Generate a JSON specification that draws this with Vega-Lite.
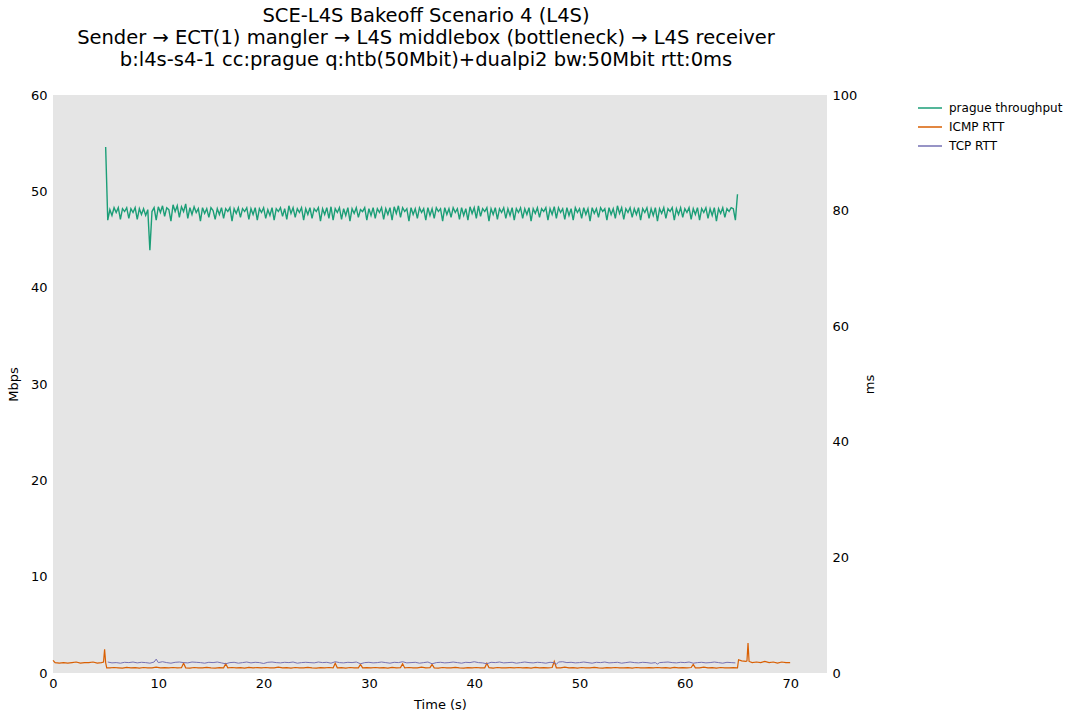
{
"$schema": "https://vega.github.io/schema/vega-lite/v6.json",
"width": 774, "height": 578,
"autosize": {"type": "none"},
"padding": {"left": 53, "top": 95, "right": 246, "bottom": 48},
"background": "white",
"config": {
 "font": "DejaVu Sans",
 "view": {"fill": "#e5e5e5", "stroke": null},
 "axis": {"grid": false, "domain": false, "ticks": false, "labelFlush": false, "labelFont": "DejaVu Sans", "labelFontSize": 13, "labelColor": "black", "titleFont": "DejaVu Sans", "titleFontSize": 13, "titleFontWeight": "normal", "titleColor": "black"},
 "legend": {"orient": "none", "legendX": 864, "legendY": 0, "symbolType": "stroke", "symbolSize": 576, "symbolStrokeWidth": 1.5, "labelFont": "DejaVu Sans", "labelFontSize": 12, "labelColor": "black", "labelOffset": 6, "rowPadding": -8, "title": null}
},
"title": {"text": ["SCE-L4S Bakeoff Scenario 4 (L4S)", "Sender → ECT(1) mangler → L4S middlebox (bottleneck) → L4S receiver", "b:l4s-s4-1 cc:prague q:htb(50Mbit)+dualpi2 bw:50Mbit rtt:0ms"], "font": "DejaVu Sans", "fontSize": 19.5, "fontWeight": "normal", "color": "black", "anchor": "middle", "dx": -14, "lineHeight": 22, "offset": 19},
"datasets": {
"thr": [
{"t":5.0,"v":54.6},{"t":5.2,"v":47.0},{"t":5.4,"v":48.1},{"t":5.6,"v":47.5},{"t":5.8,"v":48.3},{"t":6.0,"v":47.8},{"t":6.2,"v":48.3},{"t":6.4,"v":47.1},{"t":6.6,"v":48.2},{"t":6.8,"v":47.9},
{"t":7.0,"v":48.3},{"t":7.2,"v":47.2},{"t":7.4,"v":48.2},{"t":7.6,"v":47.8},{"t":7.8,"v":48.3},{"t":8.0,"v":47.1},{"t":8.2,"v":48.2},{"t":8.4,"v":47.6},{"t":8.6,"v":48.2},{"t":8.8,"v":47.5},
{"t":9.0,"v":48.1},{"t":9.2,"v":43.9},{"t":9.4,"v":47.9},{"t":9.6,"v":48.3},{"t":9.8,"v":47.0},{"t":10.0,"v":48.4},{"t":10.2,"v":47.8},{"t":10.4,"v":48.5},{"t":10.6,"v":47.4},{"t":10.8,"v":48.3},
{"t":11.0,"v":48.1},{"t":11.2,"v":46.9},{"t":11.4,"v":48.6},{"t":11.6,"v":47.9},{"t":11.8,"v":48.5},{"t":12.0,"v":47.3},{"t":12.2,"v":48.4},{"t":12.4,"v":47.9},{"t":12.6,"v":48.7},{"t":12.8,"v":47.2},
{"t":13.0,"v":48.3},{"t":13.2,"v":47.6},{"t":13.4,"v":48.4},{"t":13.6,"v":47.8},{"t":13.8,"v":48.2},{"t":14.0,"v":46.9},{"t":14.2,"v":48.3},{"t":14.4,"v":47.7},{"t":14.6,"v":48.2},{"t":14.8,"v":47.3},
{"t":15.0,"v":48.3},{"t":15.2,"v":48.0},{"t":15.4,"v":47.1},{"t":15.6,"v":48.2},{"t":15.8,"v":47.6},{"t":16.0,"v":48.3},{"t":16.2,"v":47.2},{"t":16.4,"v":48.2},{"t":16.6,"v":47.9},{"t":16.8,"v":48.3},
{"t":17.0,"v":46.9},{"t":17.2,"v":48.2},{"t":17.4,"v":47.7},{"t":17.6,"v":48.3},{"t":17.8,"v":47.3},{"t":18.0,"v":48.2},{"t":18.2,"v":47.9},{"t":18.4,"v":48.3},{"t":18.6,"v":47.1},{"t":18.8,"v":48.2},
{"t":19.0,"v":47.6},{"t":19.2,"v":48.3},{"t":19.4,"v":47.0},{"t":19.6,"v":48.2},{"t":19.8,"v":47.8},{"t":20.0,"v":48.3},{"t":20.2,"v":47.2},{"t":20.4,"v":48.1},{"t":20.6,"v":47.5},{"t":20.8,"v":48.3},
{"t":21.0,"v":47.0},{"t":21.2,"v":48.2},{"t":21.4,"v":47.9},{"t":21.6,"v":48.3},{"t":21.8,"v":47.4},{"t":22.0,"v":48.2},{"t":22.2,"v":47.1},{"t":22.4,"v":48.5},{"t":22.6,"v":47.7},{"t":22.8,"v":48.3},
{"t":23.0,"v":47.3},{"t":23.2,"v":48.2},{"t":23.4,"v":47.8},{"t":23.6,"v":48.3},{"t":23.8,"v":47.0},{"t":24.0,"v":48.2},{"t":24.2,"v":47.6},{"t":24.4,"v":48.3},{"t":24.6,"v":47.2},{"t":24.8,"v":48.2},
{"t":25.0,"v":47.9},{"t":25.2,"v":48.3},{"t":25.4,"v":46.9},{"t":25.6,"v":48.2},{"t":25.8,"v":47.6},{"t":26.0,"v":48.3},{"t":26.2,"v":47.2},{"t":26.4,"v":48.4},{"t":26.6,"v":47.0},{"t":26.8,"v":48.2},
{"t":27.0,"v":47.8},{"t":27.2,"v":48.3},{"t":27.4,"v":47.1},{"t":27.6,"v":48.2},{"t":27.8,"v":47.5},{"t":28.0,"v":48.3},{"t":28.2,"v":46.9},{"t":28.4,"v":48.2},{"t":28.6,"v":47.7},{"t":28.8,"v":48.3},
{"t":29.0,"v":47.3},{"t":29.2,"v":48.1},{"t":29.4,"v":47.9},{"t":29.6,"v":48.3},{"t":29.8,"v":47.0},{"t":30.0,"v":48.2},{"t":30.2,"v":47.5},{"t":30.4,"v":48.3},{"t":30.6,"v":47.2},{"t":30.8,"v":48.2},
{"t":31.0,"v":47.8},{"t":31.2,"v":48.3},{"t":31.4,"v":47.1},{"t":31.6,"v":48.2},{"t":31.8,"v":47.6},{"t":32.0,"v":48.3},{"t":32.2,"v":47.0},{"t":32.4,"v":48.4},{"t":32.6,"v":47.7},{"t":32.8,"v":48.5},
{"t":33.0,"v":47.3},{"t":33.2,"v":48.3},{"t":33.4,"v":47.9},{"t":33.6,"v":48.2},{"t":33.8,"v":46.9},{"t":34.0,"v":48.3},{"t":34.2,"v":47.6},{"t":34.4,"v":48.2},{"t":34.6,"v":47.2},{"t":34.8,"v":48.3},
{"t":35.0,"v":47.8},{"t":35.2,"v":48.2},{"t":35.4,"v":47.0},{"t":35.6,"v":48.3},{"t":35.8,"v":47.5},{"t":36.0,"v":48.2},{"t":36.2,"v":47.2},{"t":36.4,"v":48.3},{"t":36.6,"v":47.9},{"t":36.8,"v":48.2},
{"t":37.0,"v":46.9},{"t":37.2,"v":48.3},{"t":37.4,"v":47.6},{"t":37.6,"v":48.2},{"t":37.8,"v":47.3},{"t":38.0,"v":48.3},{"t":38.2,"v":47.8},{"t":38.4,"v":48.2},{"t":38.6,"v":47.1},{"t":38.8,"v":48.3},
{"t":39.0,"v":47.5},{"t":39.2,"v":48.2},{"t":39.4,"v":47.0},{"t":39.6,"v":48.4},{"t":39.8,"v":47.7},{"t":40.0,"v":48.3},{"t":40.2,"v":47.2},{"t":40.4,"v":48.5},{"t":40.6,"v":47.4},{"t":40.8,"v":48.2},
{"t":41.0,"v":47.9},{"t":41.2,"v":48.3},{"t":41.4,"v":46.9},{"t":41.6,"v":48.2},{"t":41.8,"v":47.6},{"t":42.0,"v":48.3},{"t":42.2,"v":47.1},{"t":42.4,"v":48.2},{"t":42.6,"v":47.8},{"t":42.8,"v":48.3},
{"t":43.0,"v":47.2},{"t":43.2,"v":48.2},{"t":43.4,"v":47.5},{"t":43.6,"v":48.3},{"t":43.8,"v":47.0},{"t":44.0,"v":48.2},{"t":44.2,"v":47.8},{"t":44.4,"v":48.3},{"t":44.6,"v":47.2},{"t":44.8,"v":48.2},
{"t":45.0,"v":47.6},{"t":45.2,"v":48.3},{"t":45.4,"v":46.9},{"t":45.6,"v":48.2},{"t":45.8,"v":47.7},{"t":46.0,"v":48.3},{"t":46.2,"v":47.3},{"t":46.4,"v":48.2},{"t":46.6,"v":47.9},{"t":46.8,"v":48.3},
{"t":47.0,"v":47.0},{"t":47.2,"v":48.2},{"t":47.4,"v":47.6},{"t":47.6,"v":48.4},{"t":47.8,"v":47.2},{"t":48.0,"v":48.3},{"t":48.2,"v":47.8},{"t":48.4,"v":48.2},{"t":48.6,"v":47.1},{"t":48.8,"v":48.3},
{"t":49.0,"v":47.5},{"t":49.2,"v":48.2},{"t":49.4,"v":47.0},{"t":49.6,"v":48.3},{"t":49.8,"v":47.8},{"t":50.0,"v":48.2},{"t":50.2,"v":47.2},{"t":50.4,"v":48.3},{"t":50.6,"v":47.6},{"t":50.8,"v":48.2},
{"t":51.0,"v":46.9},{"t":51.2,"v":48.3},{"t":51.4,"v":47.7},{"t":51.6,"v":48.2},{"t":51.8,"v":47.3},{"t":52.0,"v":48.3},{"t":52.2,"v":47.9},{"t":52.4,"v":48.2},{"t":52.6,"v":47.0},{"t":52.8,"v":48.3},
{"t":53.0,"v":47.6},{"t":53.2,"v":48.2},{"t":53.4,"v":47.2},{"t":53.6,"v":48.5},{"t":53.8,"v":47.7},{"t":54.0,"v":48.3},{"t":54.2,"v":47.1},{"t":54.4,"v":48.2},{"t":54.6,"v":47.8},{"t":54.8,"v":48.3},
{"t":55.0,"v":47.3},{"t":55.2,"v":48.2},{"t":55.4,"v":47.6},{"t":55.6,"v":48.3},{"t":55.8,"v":47.0},{"t":56.0,"v":48.2},{"t":56.2,"v":47.8},{"t":56.4,"v":48.3},{"t":56.6,"v":47.2},{"t":56.8,"v":48.2},
{"t":57.0,"v":47.5},{"t":57.2,"v":48.3},{"t":57.4,"v":46.9},{"t":57.6,"v":48.2},{"t":57.8,"v":47.7},{"t":58.0,"v":48.3},{"t":58.2,"v":47.2},{"t":58.4,"v":48.2},{"t":58.6,"v":47.9},{"t":58.8,"v":48.3},
{"t":59.0,"v":47.0},{"t":59.2,"v":48.2},{"t":59.4,"v":47.6},{"t":59.6,"v":48.3},{"t":59.8,"v":47.3},{"t":60.0,"v":48.2},{"t":60.2,"v":47.8},{"t":60.4,"v":48.3},{"t":60.6,"v":47.1},{"t":60.8,"v":48.2},
{"t":61.0,"v":47.6},{"t":61.2,"v":48.3},{"t":61.4,"v":47.0},{"t":61.6,"v":48.2},{"t":61.8,"v":47.8},{"t":62.0,"v":48.3},{"t":62.2,"v":47.2},{"t":62.4,"v":48.2},{"t":62.6,"v":47.5},{"t":62.8,"v":48.3},
{"t":63.0,"v":46.9},{"t":63.2,"v":48.2},{"t":63.4,"v":47.7},{"t":63.6,"v":48.3},{"t":63.8,"v":47.3},{"t":64.0,"v":48.2},{"t":64.2,"v":47.9},{"t":64.4,"v":48.3},{"t":64.6,"v":48.2},{"t":64.8,"v":47.0},
{"t":65.0,"v":49.7}
],
"icmp": [
{"t":0.0,"v":2.2},{"t":0.2,"v":1.8},{"t":0.6,"v":1.7},{"t":1.0,"v":1.8},{"t":1.4,"v":1.7},{"t":1.8,"v":1.8},{"t":2.2,"v":1.9},{"t":2.6,"v":1.7},{"t":3.0,"v":1.8},{"t":3.4,"v":1.8},{"t":3.8,"v":1.9},{"t":4.2,"v":1.7},{"t":4.6,"v":1.8},{"t":4.8,"v":1.9},{"t":4.9,"v":4.1},{"t":5.0,"v":1.8},{"t":5.1,"v":0.9},
{"t":5.4,"v":0.88},{"t":5.8,"v":0.95},{"t":6.2,"v":0.9},{"t":6.6,"v":0.85},{"t":7.0,"v":0.97},{"t":7.4,"v":0.9},{"t":7.8,"v":0.92},{"t":8.2,"v":0.86},{"t":8.6,"v":0.95},{"t":9.0,"v":0.9},{"t":9.4,"v":0.88},{"t":9.8,"v":1.0},{"t":10.2,"v":0.9},{"t":10.6,"v":0.93},{"t":11.0,"v":0.87},{"t":11.4,"v":0.95},{"t":11.8,"v":0.9},{"t":12.2,"v":0.92},{"t":12.4,"v":1.7},{"t":12.6,"v":0.9},
{"t":13.0,"v":0.86},{"t":13.4,"v":0.95},{"t":13.8,"v":0.9},{"t":14.2,"v":0.88},{"t":14.6,"v":0.97},{"t":15.0,"v":0.9},{"t":15.4,"v":0.85},{"t":15.8,"v":0.93},{"t":16.2,"v":0.9},{"t":16.4,"v":1.6},{"t":16.6,"v":0.9},{"t":17.0,"v":0.95},{"t":17.4,"v":0.88},{"t":17.8,"v":0.92},{"t":18.2,"v":0.86},{"t":18.6,"v":0.96},{"t":19.0,"v":0.9},{"t":19.4,"v":0.93},{"t":19.8,"v":0.87},
{"t":20.2,"v":0.95},{"t":20.6,"v":0.9},{"t":21.0,"v":0.88},{"t":21.4,"v":1.0},{"t":21.8,"v":0.9},{"t":22.2,"v":0.92},{"t":22.6,"v":0.86},{"t":23.0,"v":0.95},{"t":23.4,"v":0.9},{"t":23.8,"v":0.88},{"t":24.2,"v":0.97},{"t":24.6,"v":0.9},{"t":25.0,"v":0.85},{"t":25.4,"v":0.93},{"t":25.8,"v":0.9},{"t":26.2,"v":0.95},{"t":26.6,"v":0.88},{"t":26.8,"v":1.7},{"t":27.0,"v":0.9},
{"t":27.4,"v":0.92},{"t":27.8,"v":0.86},{"t":28.2,"v":0.95},{"t":28.6,"v":0.9},{"t":29.0,"v":0.88},{"t":29.2,"v":1.5},{"t":29.4,"v":0.9},{"t":29.8,"v":0.93},{"t":30.2,"v":0.87},{"t":30.6,"v":0.95},{"t":31.0,"v":0.9},{"t":31.4,"v":0.92},{"t":31.8,"v":0.86},{"t":32.2,"v":0.96},{"t":32.6,"v":0.9},{"t":33.0,"v":0.93},{"t":33.2,"v":1.6},{"t":33.4,"v":0.88},
{"t":33.8,"v":0.95},{"t":34.2,"v":0.9},{"t":34.6,"v":0.88},{"t":35.0,"v":1.0},{"t":35.4,"v":0.9},{"t":35.8,"v":0.92},{"t":36.0,"v":1.5},{"t":36.2,"v":0.9},{"t":36.6,"v":0.86},{"t":37.0,"v":0.95},{"t":37.4,"v":0.9},{"t":37.8,"v":0.88},{"t":38.2,"v":0.97},{"t":38.6,"v":0.9},{"t":39.0,"v":0.85},{"t":39.4,"v":0.93},{"t":39.8,"v":0.9},
{"t":40.2,"v":0.95},{"t":40.6,"v":0.88},{"t":41.0,"v":0.9},{"t":41.2,"v":1.7},{"t":41.4,"v":0.92},{"t":41.8,"v":0.86},{"t":42.2,"v":0.95},{"t":42.6,"v":0.9},{"t":43.0,"v":0.88},{"t":43.4,"v":0.93},{"t":43.8,"v":0.87},{"t":44.2,"v":0.95},{"t":44.6,"v":0.9},{"t":45.0,"v":0.92},{"t":45.4,"v":0.86},{"t":45.8,"v":0.96},{"t":46.2,"v":0.9},
{"t":46.6,"v":0.93},{"t":47.0,"v":0.87},{"t":47.4,"v":0.95},{"t":47.6,"v":2.0},{"t":47.8,"v":0.9},{"t":48.2,"v":0.88},{"t":48.6,"v":1.0},{"t":49.0,"v":0.9},{"t":49.4,"v":0.92},{"t":49.8,"v":0.86},{"t":50.2,"v":0.95},{"t":50.6,"v":0.9},{"t":51.0,"v":0.88},{"t":51.4,"v":0.97},{"t":51.8,"v":0.9},{"t":52.2,"v":0.85},{"t":52.6,"v":0.93},
{"t":53.0,"v":0.9},{"t":53.4,"v":0.95},{"t":53.8,"v":0.88},{"t":54.2,"v":0.9},{"t":54.6,"v":0.92},{"t":55.0,"v":0.86},{"t":55.4,"v":0.95},{"t":55.8,"v":0.9},{"t":56.2,"v":0.88},{"t":56.6,"v":0.93},{"t":57.0,"v":0.87},{"t":57.4,"v":0.95},{"t":57.8,"v":0.9},{"t":58.2,"v":0.92},{"t":58.6,"v":0.86},{"t":59.0,"v":0.96},{"t":59.4,"v":0.9},
{"t":59.8,"v":0.93},{"t":60.2,"v":0.87},{"t":60.6,"v":0.95},{"t":60.8,"v":1.5},{"t":61.0,"v":0.9},{"t":61.4,"v":0.88},{"t":61.8,"v":1.0},{"t":62.2,"v":0.9},{"t":62.6,"v":0.92},{"t":63.0,"v":0.86},{"t":63.4,"v":0.95},{"t":63.8,"v":0.9},{"t":64.2,"v":0.88},{"t":64.6,"v":0.93},{"t":65.0,"v":0.9},
{"t":65.1,"v":2.3},{"t":65.4,"v":2.1},{"t":65.8,"v":2.0},{"t":65.9,"v":2.1},{"t":66.0,"v":5.2},{"t":66.1,"v":2.0},{"t":66.4,"v":1.8},{"t":66.8,"v":1.9},{"t":67.2,"v":1.8},{"t":67.6,"v":2.0},{"t":68.0,"v":1.8},{"t":68.4,"v":1.9},{"t":68.8,"v":1.7},{"t":69.2,"v":1.9},{"t":69.6,"v":1.8},{"t":70.0,"v":1.8}
],
"tcp": [
{"t":5.2,"v":1.9},{"t":5.6,"v":1.75},{"t":6.0,"v":1.8},{"t":6.4,"v":1.7},{"t":6.8,"v":1.85},{"t":7.2,"v":1.8},{"t":7.6,"v":1.9},{"t":8.0,"v":1.75},{"t":8.4,"v":1.85},{"t":8.8,"v":1.8},{"t":9.2,"v":1.7},{"t":9.6,"v":1.9},{"t":9.8,"v":2.4},{"t":10.0,"v":1.8},{"t":10.4,"v":1.95},{"t":10.8,"v":1.8},{"t":11.2,"v":1.7},{"t":11.6,"v":1.85},{"t":12.0,"v":1.9},
{"t":12.4,"v":1.8},{"t":12.8,"v":1.75},{"t":13.2,"v":1.9},{"t":13.6,"v":1.85},{"t":14.0,"v":1.8},{"t":14.4,"v":1.7},{"t":14.8,"v":1.85},{"t":15.2,"v":1.8},{"t":15.6,"v":1.9},{"t":16.0,"v":1.75},{"t":16.4,"v":1.6},{"t":16.8,"v":1.8},{"t":17.2,"v":1.85},{"t":17.6,"v":1.7},{"t":18.0,"v":1.8},{"t":18.4,"v":1.9},{"t":18.8,"v":1.75},
{"t":19.2,"v":1.85},{"t":19.6,"v":1.8},{"t":20.0,"v":1.65},{"t":20.4,"v":1.85},{"t":20.8,"v":1.9},{"t":21.2,"v":1.8},{"t":21.6,"v":1.75},{"t":22.0,"v":1.85},{"t":22.4,"v":1.8},{"t":22.8,"v":1.9},{"t":23.2,"v":1.7},{"t":23.6,"v":1.8},{"t":24.0,"v":1.85},{"t":24.4,"v":1.8},{"t":24.8,"v":1.75},{"t":25.2,"v":1.9},
{"t":25.6,"v":1.8},{"t":26.0,"v":1.85},{"t":26.4,"v":1.7},{"t":26.8,"v":1.95},{"t":27.2,"v":1.8},{"t":27.6,"v":1.75},{"t":28.0,"v":1.85},{"t":28.4,"v":1.8},{"t":28.8,"v":1.9},{"t":29.2,"v":1.6},{"t":29.6,"v":1.8},{"t":30.0,"v":1.85},{"t":30.4,"v":1.75},{"t":30.8,"v":1.8},{"t":31.2,"v":1.9},{"t":31.6,"v":1.8},
{"t":32.0,"v":1.7},{"t":32.4,"v":1.85},{"t":32.8,"v":1.8},{"t":33.2,"v":1.95},{"t":33.6,"v":1.75},{"t":34.0,"v":1.8},{"t":34.4,"v":1.85},{"t":34.8,"v":1.7},{"t":35.2,"v":1.8},{"t":35.6,"v":1.9},{"t":36.0,"v":1.6},{"t":36.4,"v":1.8},{"t":36.8,"v":1.85},{"t":37.2,"v":1.75},{"t":37.6,"v":1.8},{"t":38.0,"v":1.9},
{"t":38.4,"v":1.8},{"t":38.8,"v":1.7},{"t":39.2,"v":1.85},{"t":39.6,"v":1.8},{"t":40.0,"v":1.95},{"t":40.4,"v":1.8},{"t":40.8,"v":1.75},{"t":41.2,"v":1.6},{"t":41.6,"v":1.85},{"t":42.0,"v":1.8},{"t":42.4,"v":1.9},{"t":42.8,"v":1.75},{"t":43.2,"v":1.8},{"t":43.6,"v":1.85},{"t":44.0,"v":1.7},{"t":44.4,"v":1.8},
{"t":44.8,"v":1.9},{"t":45.2,"v":1.8},{"t":45.6,"v":1.75},{"t":46.0,"v":1.85},{"t":46.4,"v":1.8},{"t":46.8,"v":1.7},{"t":47.2,"v":1.85},{"t":47.6,"v":1.8},{"t":47.8,"v":1.5},{"t":48.0,"v":1.9},{"t":48.4,"v":1.95},{"t":48.8,"v":1.8},{"t":49.2,"v":1.85},{"t":49.6,"v":1.75},{"t":50.0,"v":1.8},{"t":50.4,"v":1.9},
{"t":50.8,"v":1.8},{"t":51.2,"v":1.7},{"t":51.6,"v":1.85},{"t":52.0,"v":1.8},{"t":52.4,"v":1.9},{"t":52.8,"v":1.75},{"t":53.2,"v":1.8},{"t":53.6,"v":1.85},{"t":54.0,"v":1.7},{"t":54.4,"v":1.8},{"t":54.8,"v":1.9},{"t":55.2,"v":1.8},{"t":55.6,"v":1.75},{"t":56.0,"v":1.85},{"t":56.4,"v":1.8},{"t":56.8,"v":1.7},
{"t":57.2,"v":1.8},{"t":57.4,"v":1.55},{"t":57.6,"v":1.8},{"t":58.0,"v":1.85},{"t":58.4,"v":1.9},{"t":58.8,"v":1.8},{"t":59.2,"v":1.75},{"t":59.6,"v":1.85},{"t":60.0,"v":1.8},{"t":60.4,"v":1.9},{"t":60.8,"v":1.7},{"t":61.2,"v":1.8},{"t":61.6,"v":1.85},{"t":62.0,"v":1.75},{"t":62.4,"v":1.8},{"t":62.8,"v":1.9},
{"t":63.2,"v":1.8},{"t":63.6,"v":1.7},{"t":64.0,"v":1.85},{"t":64.4,"v":1.8},{"t":64.8,"v":1.75}
]
},
"layer": [
 {
  "data": {"name": "thr"},
  "mark": {"type": "line", "strokeWidth": 1.4, "interpolate": "linear"},
  "encoding": {
   "x": {"field": "t", "type": "quantitative", "scale": {"domain": [0, 73.5], "nice": false}, "axis": {"title": "Time (s)", "values": [0,10,20,30,40,50,60,70], "labelPadding": 4, "titlePadding": 8}},
   "y": {"field": "v", "type": "quantitative", "scale": {"domain": [0, 60], "nice": false}, "axis": {"orient": "left", "title": "Mbps", "values": [0,10,20,30,40,50,60], "labelPadding": 6, "titlePadding": 10}},
   "color": {"datum": "prague throughput", "type": "nominal", "scale": {"domain": ["prague throughput", "ICMP RTT", "TCP RTT"], "range": ["#1b9e77", "#d95f02", "#7570b3"]}}
  }
 },
 {
  "layer": [
   {
    "data": {"name": "icmp"},
    "mark": {"type": "line", "strokeWidth": 1.2},
    "encoding": {
     "x": {"field": "t", "type": "quantitative"},
     "y": {"field": "v", "type": "quantitative", "scale": {"domain": [0, 100], "nice": false}, "axis": {"orient": "right", "title": "ms", "titleAngle": 270, "values": [0,20,40,60,80,100], "labelPadding": 5, "titlePadding": 20}},
     "color": {"datum": "ICMP RTT", "type": "nominal"}
    }
   },
   {
    "data": {"name": "tcp"},
    "mark": {"type": "line", "strokeWidth": 1.0},
    "encoding": {
     "x": {"field": "t", "type": "quantitative"},
     "y": {"field": "v", "type": "quantitative"},
     "color": {"datum": "TCP RTT", "type": "nominal"}
    }
   }
  ]
 }
],
"resolve": {"scale": {"y": "independent"}}
}
